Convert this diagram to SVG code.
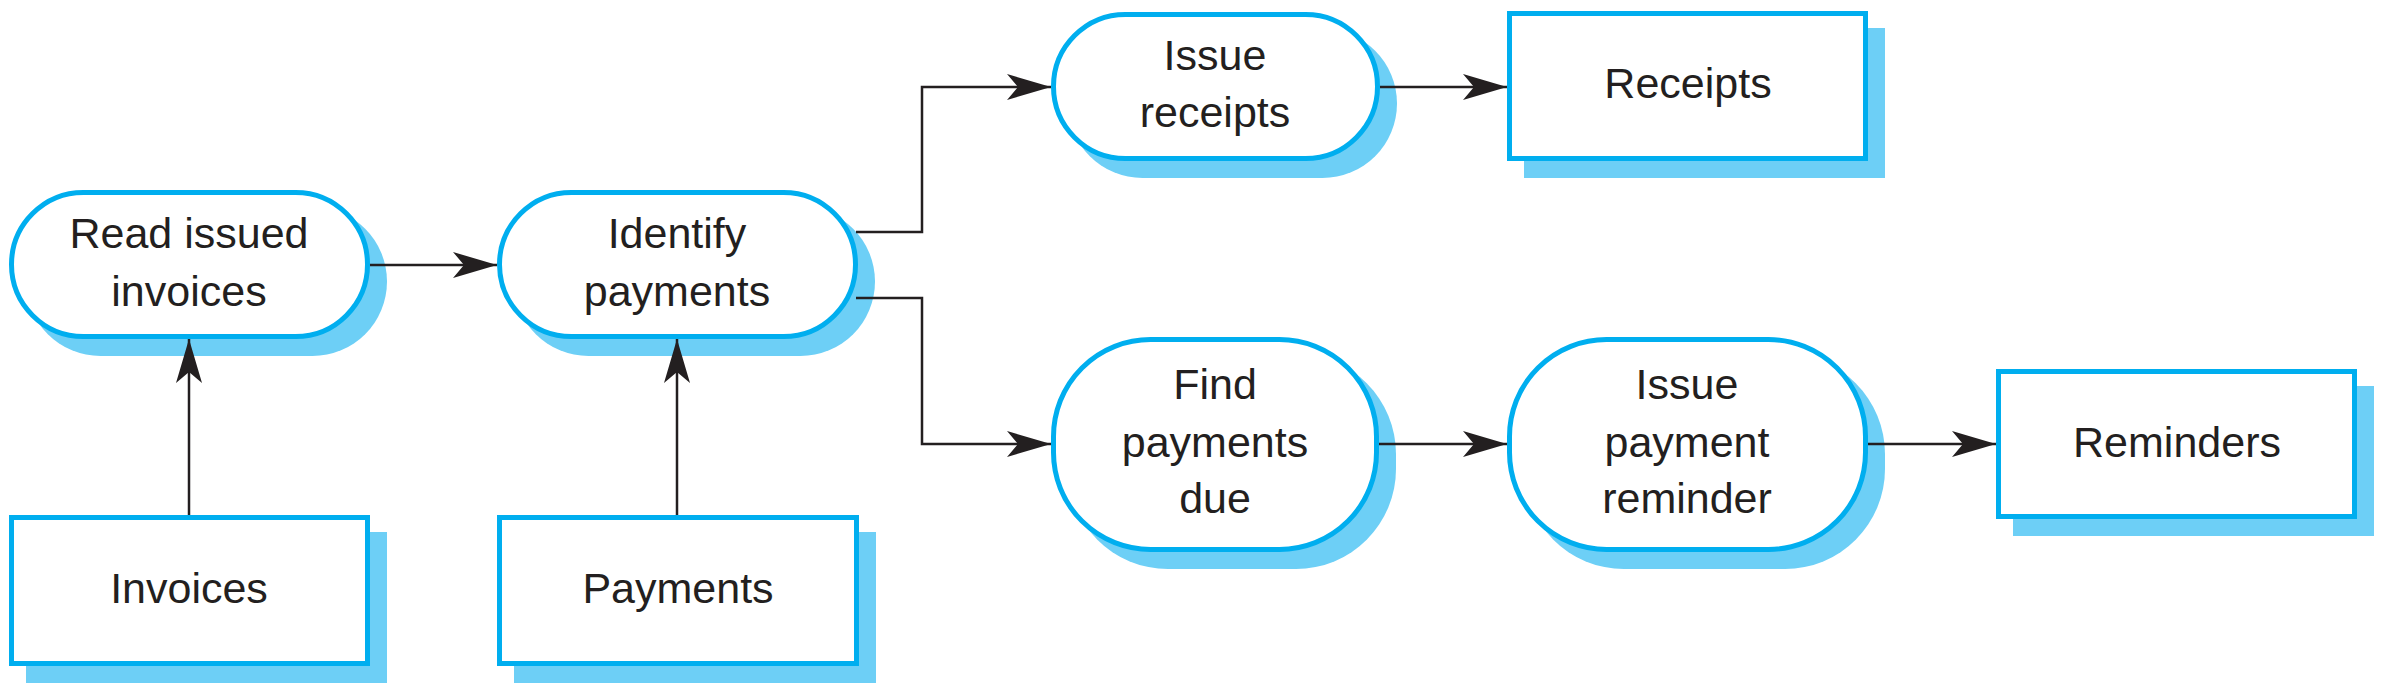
<svg xmlns="http://www.w3.org/2000/svg" width="2382" height="691" viewBox="0 0 2382 691">
<style>
.sh{fill:#6DCFF6;stroke:none}
.nd{fill:#FFFFFF;stroke:#00AEEF;stroke-width:5}
.tx{font-family:"Liberation Sans",Arial,sans-serif;font-size:43px;fill:#231F20;text-anchor:middle}
.ln{fill:none;stroke:#231F20;stroke-width:2.5}
</style>
<defs>
<marker id="arr" viewBox="0 0 44 26" refX="44" refY="13" markerWidth="44" markerHeight="26" orient="auto" markerUnits="userSpaceOnUse">
<path d="M0,0 L44,13 L0,26 L11,13 Z" fill="#231F20"/>
</marker>
</defs>
<rect width="2382" height="691" fill="#FFFFFF"/>
<g id="read-issued-invoices">
<rect class="sh" x="26" y="207" width="361" height="149" rx="74.5"/>
<rect class="nd" x="11.5" y="192.5" width="356" height="144" rx="72"/>
<text class="tx" x="189" y="248">Read issued</text>
<text class="tx" x="189" y="306">invoices</text>
</g>
<g id="identify-payments">
<rect class="sh" x="514" y="207" width="361" height="149" rx="74.5"/>
<rect class="nd" x="499.5" y="192.5" width="356" height="144" rx="72"/>
<text class="tx" x="677" y="248">Identify</text>
<text class="tx" x="677" y="306">payments</text>
</g>
<g id="issue-receipts">
<rect class="sh" x="1068" y="29" width="329" height="149" rx="74.5"/>
<rect class="nd" x="1053.5" y="14.5" width="324" height="144" rx="72"/>
<text class="tx" x="1215" y="70">Issue</text>
<text class="tx" x="1215" y="127">receipts</text>
</g>
<g id="receipts">
<rect class="sh" x="1524" y="28" width="361" height="150"/>
<rect class="nd" x="1509.5" y="13.5" width="356" height="145"/>
<text class="tx" x="1688" y="98">Receipts</text>
</g>
<g id="find-payments-due">
<rect class="sh" x="1068" y="354" width="328" height="215" rx="100"/>
<rect class="nd" x="1053.5" y="339.5" width="323" height="210" rx="97"/>
<text class="tx" x="1215" y="399">Find</text>
<text class="tx" x="1215" y="457">payments</text>
<text class="tx" x="1215" y="513">due</text>
</g>
<g id="issue-payment-reminder">
<rect class="sh" x="1524" y="354" width="361" height="215" rx="100"/>
<rect class="nd" x="1509.5" y="339.5" width="356" height="210" rx="97"/>
<text class="tx" x="1687" y="399">Issue</text>
<text class="tx" x="1687" y="457">payment</text>
<text class="tx" x="1687" y="513">reminder</text>
</g>
<g id="reminders">
<rect class="sh" x="2013" y="386" width="361" height="150"/>
<rect class="nd" x="1998.5" y="371.5" width="356" height="145"/>
<text class="tx" x="2177" y="457">Reminders</text>
</g>
<g id="invoices">
<rect class="sh" x="26" y="532" width="361" height="151"/>
<rect class="nd" x="11.5" y="517.5" width="356" height="146"/>
<text class="tx" x="189" y="603">Invoices</text>
</g>
<g id="payments">
<rect class="sh" x="514" y="532" width="362" height="151"/>
<rect class="nd" x="499.5" y="517.5" width="357" height="146"/>
<text class="tx" x="678" y="603">Payments</text>
</g>
<g id="connectors">
<path class="ln" d="M370,265 H497" marker-end="url(#arr)"/>
<path class="ln" d="M189,515 V339" marker-end="url(#arr)"/>
<path class="ln" d="M677,515 V339" marker-end="url(#arr)"/>
<path class="ln" d="M856,232 H922 V87 H1051" marker-end="url(#arr)"/>
<path class="ln" d="M856,298 H922 V444 H1051" marker-end="url(#arr)"/>
<path class="ln" d="M1380,87 H1507" marker-end="url(#arr)"/>
<path class="ln" d="M1379,444 H1507" marker-end="url(#arr)"/>
<path class="ln" d="M1868,444 H1996" marker-end="url(#arr)"/>
</g>
</svg>
